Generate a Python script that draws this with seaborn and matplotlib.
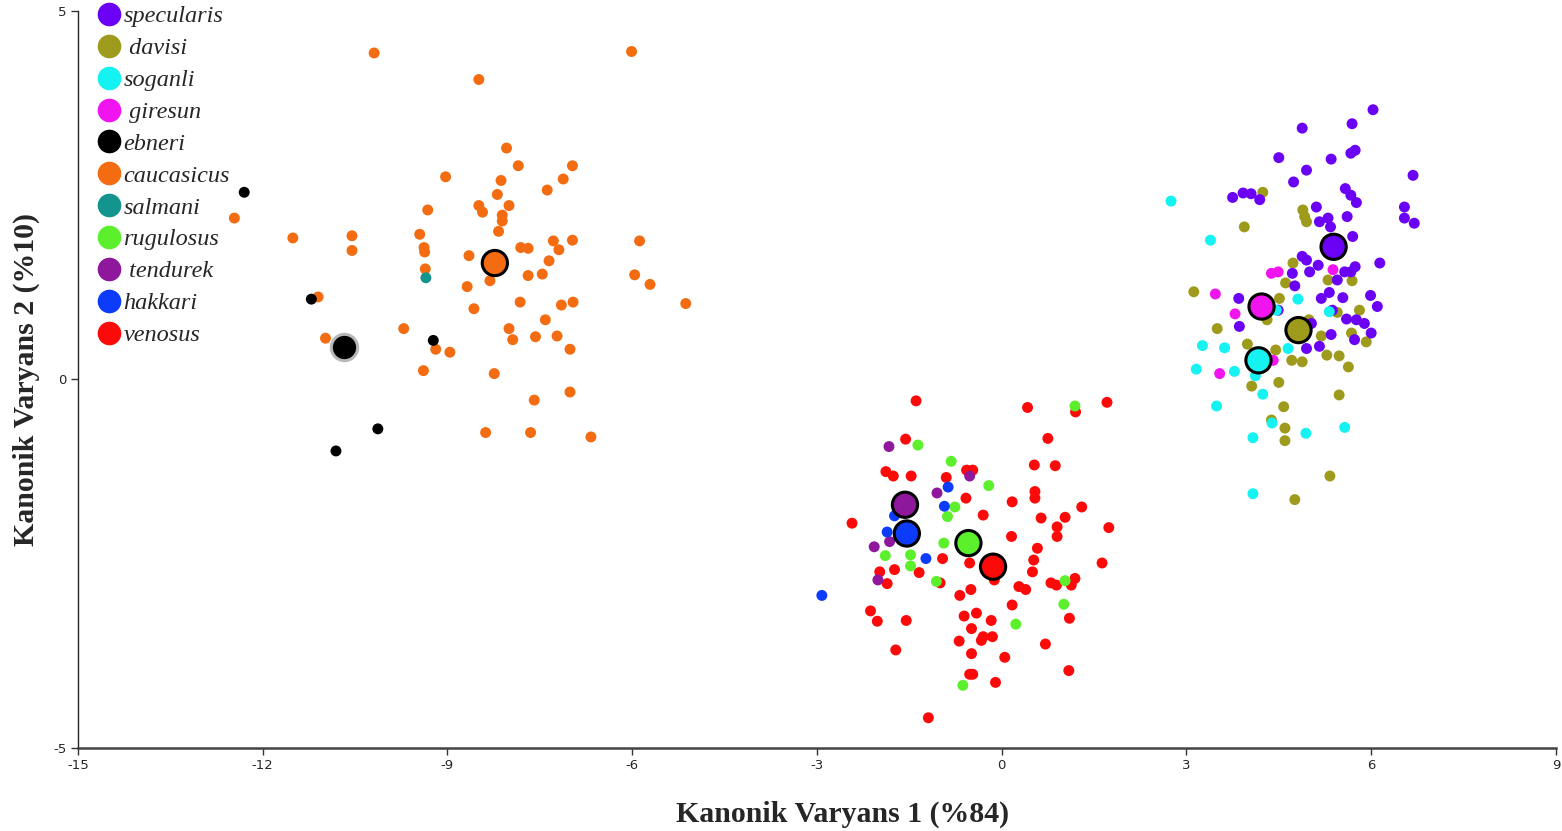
import numpy as np
import pandas as pd
import matplotlib
matplotlib.use("Agg")
import matplotlib.pyplot as plt
import seaborn as sns
from matplotlib.lines import Line2D

# ---------------- data ----------------
species = ["specularis", "davisi", "soganli", "giresun", "ebneri", "caucasicus",
           "salmani", "rugulosus", "tendurek", "hakkari", "venosus"]
legend_labels = ["specularis", " davisi", "soganli", " giresun", "ebneri", "caucasicus",
                 "salmani", "rugulosus", " tendurek", "hakkari", "venosus"]
colors = ["#6a00f4", "#9e9a1c", "#14f2f2", "#f014ee", "#000000", "#f36c12",
          "#14948e", "#5cf02c", "#8e179c", "#0c3cfa", "#fc0a0a"]

specularis_x = [6.03, 4.88, 5.69, 5.74, 5.67, 4.50, 5.35, 4.95, 4.74, 6.68, 3.75, 3.92, 4.05, 4.19,
                5.58, 5.67, 5.76, 5.11, 6.54, 6.54, 6.70, 5.61, 5.16, 5.30, 5.34, 5.70, 6.14, 4.88,
                4.95, 5.14, 5.00, 5.57, 5.74, 5.67, 4.72, 5.45, 4.76, 5.32, 5.19, 5.54, 5.99, 6.10,
                3.85, 4.49, 5.37, 5.60, 5.76, 5.89, 6.00, 3.86, 5.03, 5.35, 5.73, 4.95, 5.16]
specularis_y = [3.66, 3.41, 3.47, 3.11, 3.07, 3.01, 2.99, 2.84, 2.68, 2.77, 2.47, 2.53, 2.52, 2.44,
                2.59, 2.50, 2.40, 2.34, 2.34, 2.19, 2.12, 2.21, 2.14, 2.19, 2.07, 1.94, 1.58, 1.67,
                1.62, 1.55, 1.46, 1.46, 1.53, 1.46, 1.44, 1.35, 1.27, 1.18, 1.10, 1.11, 1.14, 0.99,
                1.10, 0.94, 0.94, 0.82, 0.81, 0.76, 0.63, 0.72, 0.76, 0.61, 0.54, 0.42, 0.45]

davisi_x = [4.24, 4.89, 4.92, 4.95, 3.94, 4.73, 4.61, 5.30, 5.69, 3.12, 4.51, 4.31, 5.45, 5.81,
            3.50, 4.99, 5.19, 5.68, 5.92, 3.99, 4.45, 4.71, 4.88, 5.28, 5.48, 5.63, 4.06, 4.50,
            5.48, 4.58, 4.38, 4.60, 4.60, 5.33, 4.76]
davisi_y = [2.54, 2.30, 2.21, 2.14, 2.07, 1.58, 1.31, 1.35, 1.34, 1.19, 1.10, 0.81, 0.91, 0.94,
            0.69, 0.81, 0.59, 0.63, 0.51, 0.48, 0.40, 0.26, 0.24, 0.33, 0.32, 0.17, -0.09, -0.04,
            -0.21, -0.37, -0.55, -0.66, -0.83, -1.31, -1.63]

soganli_x = [2.75, 3.39, 4.81, 4.46, 5.32, 3.26, 3.62, 4.65, 3.16, 3.78, 4.12, 4.24, 3.49, 4.39,
             4.08, 4.94, 5.57, 4.08]
soganli_y = [2.42, 1.89, 1.09, 0.94, 0.92, 0.46, 0.43, 0.42, 0.14, 0.11, 0.05, -0.20, -0.36, -0.59,
             -0.79, -0.73, -0.65, -1.55]

giresun_x = [4.38, 4.49, 5.38, 3.47, 3.79, 3.54, 4.41]
giresun_y = [1.44, 1.46, 1.49, 1.16, 0.89, 0.08, 0.26]

ebneri_x = [-12.30, -11.21, -9.23, -10.13, -10.81]
ebneri_y = [2.54, 1.09, 0.53, -0.67, -0.97]

caucasicus_x = [-10.19, -6.01, -8.49, -8.04, -7.85, -6.97, -9.03, -8.13, -7.12, -7.38, -8.19, -8.00,
                -8.49, -8.43, -9.32, -8.11, -8.11, -8.17, -9.45, -7.28, -6.97, -7.19, -7.81, -7.69,
                -9.38, -9.37, -5.88, -10.55, -10.55, -11.51, -12.46, -8.65, -7.35, -7.69, -7.46,
                -5.96, -5.71, -9.36, -8.31, -8.68, -5.13, -7.82, -7.15, -6.96, -8.57, -11.10,
                -7.41, -8.00, -7.94, -7.57, -7.22, -7.01, -9.71, -10.98, -9.19, -8.96, -9.39,
                -8.24, -7.01, -7.59, -8.38, -7.65, -6.67]
caucasicus_y = [4.43, 4.45, 4.07, 3.14, 2.90, 2.90, 2.75, 2.70, 2.72, 2.57, 2.51, 2.36,
                2.36, 2.27, 2.30, 2.23, 2.15, 2.01, 1.97, 1.88, 1.89, 1.76, 1.79, 1.78,
                1.79, 1.73, 1.88, 1.95, 1.75, 1.92, 2.19, 1.68, 1.61, 1.41, 1.43,
                1.42, 1.29, 1.50, 1.34, 1.26, 1.03, 1.05, 1.01, 1.05, 0.96, 1.12,
                0.81, 0.69, 0.54, 0.58, 0.59, 0.41, 0.69, 0.56, 0.41, 0.37, 0.12,
                0.08, -0.17, -0.28, -0.72, -0.72, -0.78]

salmani_x = [-9.35]
salmani_y = [1.38]

rugulosus_x = [1.19, -1.36, -0.82, -0.21, -0.76, -0.88, -0.94, -1.89, -1.48, -1.48, -1.06, 1.03,
               1.01, 0.23, -0.63]
rugulosus_y = [-0.36, -0.89, -1.11, -1.44, -1.73, -1.86, -2.22, -2.39, -2.38, -2.53, -2.74, -2.73,
               -3.05, -3.32, -4.15]

tendurek_x = [-1.83, -0.52, -1.05, -2.07, -1.82, -2.01]
tendurek_y = [-0.91, -1.31, -1.54, -2.27, -2.20, -2.72]

hakkari_x = [-0.87, -0.93, -1.74, -1.86, -1.23, -2.92]
hakkari_y = [-1.46, -1.72, -1.85, -2.07, -2.43, -2.93]

venosus_x = [-1.39, 0.42, 1.20, 1.71, 0.75, -1.56, -1.88, -1.76, -1.47, -0.90, -0.57, -0.47, 0.53,
             0.87, 0.54, 0.54, 0.17, -0.58, 1.30, -2.43, -0.30, 0.64, 1.03, 0.90, 1.74, 0.90,
             0.16, 0.58, 0.52, 1.63, 0.50, -0.96, -0.52, -1.74, -1.34, -1.98, -1.86, -1.00,
             -0.12, -0.50, -0.68, 0.28, 0.39, 0.80, 0.89, 1.19, 1.13, 0.17, -2.13, -2.02, -1.55,
             -0.61, -0.41, -0.17, -0.49, 1.10, -0.30, -0.15, -0.33, -0.69, -1.72, 0.71, -0.49,
             0.05, -0.52, -0.47, 1.09, -0.10, -1.19]
venosus_y = [-0.29, -0.38, -0.44, -0.31, -0.80, -0.81, -1.25, -1.31, -1.31, -1.33, -1.23, -1.23, -1.16,
             -1.17, -1.52, -1.61, -1.66, -1.61, -1.73, -1.95, -1.84, -1.88, -1.87, -2.00, -2.01, -2.13,
             -2.13, -2.29, -2.45, -2.49, -2.61, -2.43, -2.49, -2.58, -2.62, -2.61, -2.77, -2.76,
             -2.72, -2.85, -2.93, -2.81, -2.85, -2.76, -2.79, -2.70, -2.79, -3.06, -3.14, -3.28, -3.27,
             -3.21, -3.17, -3.27, -3.38, -3.24, -3.49, -3.49, -3.54, -3.55, -3.67, -3.59, -3.72,
             -3.77, -4.00, -4.00, -3.95, -4.11, -4.59]

# group means (centroids)
mean_species = ["specularis", "davisi", "soganli", "giresun", "ebneri", "caucasicus",
                "rugulosus", "tendurek", "hakkari", "venosus"]
mean_x = [5.39, 4.82, 4.17, 4.22, -10.68, -8.23, -0.54, -1.57, -1.54, -0.14]
mean_y = [1.80, 0.67, 0.26, 0.99, 0.44, 1.58, -2.22, -1.70, -2.09, -2.54]

x_ticks = [-15, -12, -9, -6, -3, 0, 3, 6, 9]
y_ticks = [-5, 0, 5]
x_label = "Kanonik Varyans 1 (%84)"
y_label = "Kanonik Varyans 2 (%10)"

# ---------------- build frames ----------------
series = {
    "specularis": (specularis_x, specularis_y), "davisi": (davisi_x, davisi_y),
    "soganli": (soganli_x, soganli_y), "giresun": (giresun_x, giresun_y),
    "ebneri": (ebneri_x, ebneri_y), "caucasicus": (caucasicus_x, caucasicus_y),
    "salmani": (salmani_x, salmani_y), "rugulosus": (rugulosus_x, rugulosus_y),
    "tendurek": (tendurek_x, tendurek_y), "hakkari": (hakkari_x, hakkari_y),
    "venosus": (venosus_x, venosus_y),
}
draw_order = ["caucasicus", "ebneri", "salmani", "venosus", "rugulosus", "tendurek", "hakkari",
              "davisi", "specularis", "soganli", "giresun"]
rows = []
for sp in draw_order:
    xs, ys = series[sp]
    for a, b in zip(xs, ys):
        rows.append((sp, a, b))
df = pd.DataFrame(rows, columns=["species", "x", "y"])
palette = dict(zip(species, colors))
means = pd.DataFrame({"species": mean_species, "x": mean_x, "y": mean_y})

# ---------------- plot ----------------
sns.set_style("ticks")
plt.rcParams["font.family"] = ["DejaVu Sans"]

fig = plt.figure(figsize=(15.62, 8.31), dpi=100)
ax = fig.add_axes([0.0499, 0.0999, 0.9462, 0.8869])

sns.scatterplot(data=df, x="x", y="y", hue="species", palette=palette, s=62,
                linewidth=0, legend=False, ax=ax, zorder=3)

m_norm = means[means["species"] != "ebneri"]
sns.scatterplot(data=m_norm, x="x", y="y", hue="species", palette=palette, s=330,
                edgecolor="black", linewidth=2.2, legend=False, ax=ax, zorder=5)
m_eb = means[means["species"] == "ebneri"]
sns.scatterplot(data=m_eb, x="x", y="y", hue="species", palette=palette, s=360,
                edgecolor="#b8b8b8", linewidth=2.2, legend=False, ax=ax, zorder=5)

ax.set_xlim(-15, 9)
ax.set_ylim(-5, 5)
ax.set_xticks(x_ticks)
ax.set_yticks(y_ticks)
ax.set_xticklabels([str(t) for t in x_ticks])
ax.set_yticklabels([str(t) for t in y_ticks])
ax.tick_params(axis="both", labelsize=9.5, length=5, width=1, color="#333333", pad=3)
sns.despine(ax=ax)
ax.spines["left"].set_linewidth(1.0)
ax.spines["bottom"].set_linewidth(1.8)
ax.spines["bottom"].set_color("#444444")

ax.set_xlabel(x_label, fontsize=21.5, fontweight="bold", family="Liberation Serif", labelpad=17)
ax.xaxis.set_label_coords(0.5176, -0.072)
ax.set_ylabel(y_label, fontsize=21.5, fontweight="bold", family="Liberation Serif", labelpad=10)

handles = [Line2D([0], [0], marker="o", linestyle="", markersize=16,
                  markerfacecolor=c, markeredgecolor=c) for c in colors]
leg = ax.legend(handles, legend_labels, loc="upper left", bbox_to_anchor=(0.051, 1.011),
                bbox_transform=fig.transFigure, frameon=False, handletextpad=0.0,
                labelspacing=0.405, borderpad=0.1, handlelength=1.2,
                prop={"family": "Liberation Serif", "style": "italic", "size": 17.5})

fig.savefig("out.png", dpi=100)
